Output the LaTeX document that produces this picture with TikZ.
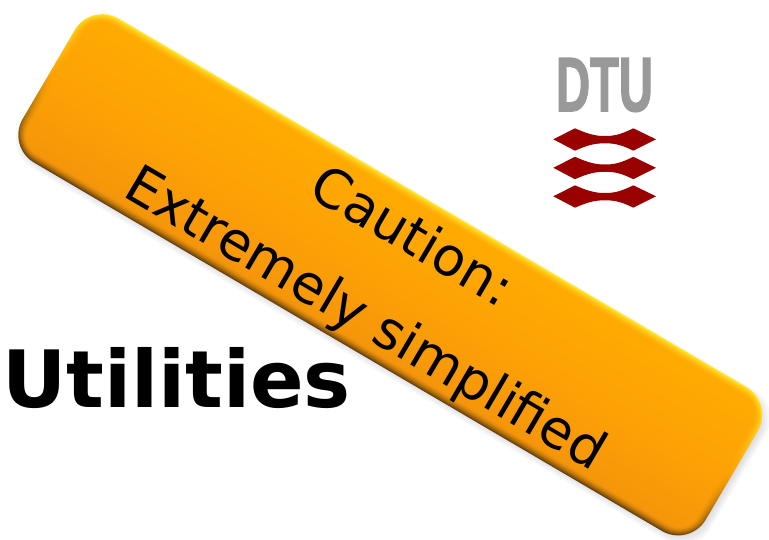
\documentclass[tikz,border=0pt]{standalone}
\usepackage{fontspec}
\setmainfont{DejaVu Sans}
\newfontfamily\dtufont[FakeStretch=0.61,FakeBold=1.5]{Liberation Sans Bold}
\definecolor{mainTop}{HTML}{FFAA03}
\definecolor{mainMid}{HTML}{FDA205}
\definecolor{mainBot}{HTML}{F5960A}
\definecolor{edgeTop}{HTML}{FFE82A}
\definecolor{edgeBot}{HTML}{64400C}
\definecolor{dtured}{HTML}{990000}
\definecolor{dtugray}{HTML}{999999}
\tikzset{
  x=0.75pt,y=-0.75pt,
  bannertext/.style={font=\fontsize{40}{48}\selectfont,rotate=-30.4,inner sep=0pt,text=black,anchor=base},
  wave/.style={fill=dtured,draw=none},
}
\begin{document}
\begin{tikzpicture}
\useasboundingbox[fill=white] (0,0) rectangle (769,540);
% soft shadow
\begin{scope}[transform canvas={shift={(393pt*0.75,-279pt*0.75)},rotate=-30.4}]
  \foreach \i in {-6,-4,...,4}
    \fill[black!80!blue,fill opacity=0.03,rounded corners=24] (-396-\i,-83-\i) rectangle (396+\i,83+\i);
\end{scope}
% bevelled banner
\begin{scope}[transform canvas={shift={(390.3pt*0.75,-274.8pt*0.75)},rotate=-30.4}]
  \foreach \i in {0,1,...,9}{
    \pgfmathsetmacro{\p}{100*(1-\i/9)^1.6}
    \pgfmathsetmacro{\r}{24-\i}
    \shade[top color=edgeTop!\p!mainTop,bottom color=edgeBot!\p!mainBot,middle color=mainMid,rounded corners=\r]
      (-396+\i,-83.5+\i) rectangle (396-\i,83.5-\i);
  }
\end{scope}
\node[bannertext] (caution) at (403.5,252) {Caution:};
\node[bannertext] (simplified) at (356.9,333.4) {Extremely simplified};
\node[inner sep=0pt,font=\fontsize{59.3}{70}\selectfont\bfseries,text=black] (utilities) at (176.5,378.5) {Utilities};
\node[inner sep=0pt,font=\dtufont\fontsize{58}{62}\selectfont,text=dtugray] (dtu) at (604.5,85) {DTU};
\foreach \dy in {0,28.5,57}{
  \fill[wave] (553.3,139.3+\dy) -- (575,128.3+\dy)
     .. controls (590,135+\dy) and (597,136+\dy) .. (605,136+\dy)
     .. controls (613,136+\dy) and (620,135+\dy) .. (633.3,128.3+\dy)
     -- (656,139.3+\dy) -- (633.3,150.7+\dy)
     .. controls (620,144+\dy) and (613,143.3+\dy) .. (605,143.3+\dy)
     .. controls (597,143.3+\dy) and (590,144+\dy) .. (575,150.7+\dy) -- cycle;
}
\end{tikzpicture}
\end{document}
